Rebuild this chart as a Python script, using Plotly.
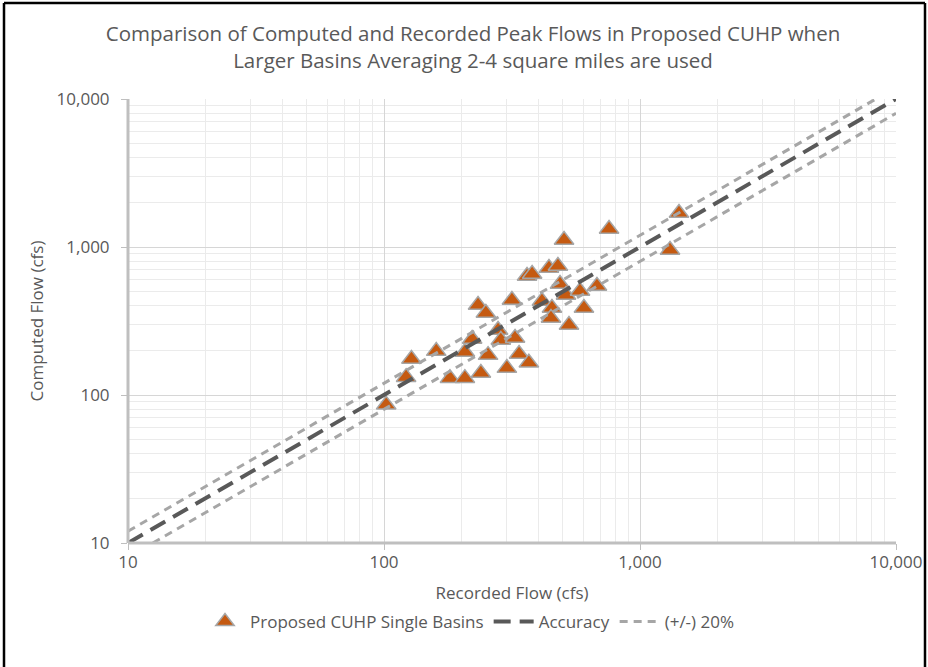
import plotly.graph_objects as go

# Recorded vs computed peak flows (cfs) for the larger basins
recorded = [102, 122, 128, 160, 181, 207, 207, 221, 233, 250, 239, 255,
            279, 286, 302, 316, 325, 337, 368, 362, 379, 414, 441, 478,
            487, 514, 583, 679, 604, 453, 449, 528, 505, 757, 1420, 1310]
computed = [86, 132, 175, 198, 130, 130, 195, 239, 406, 358, 141, 186,
            275, 235, 152, 438, 243, 189, 165, 637, 657, 432, 721, 744,
            562, 474, 504, 545, 387, 387, 331, 297, 1115, 1323, 1697, 954]

# Reference lines: perfect agreement and a +/-20% band
line_lo, line_hi = 10, 10000
band = 0.20

tick_vals = [10, 100, 1000, 10000]
tick_text = ["10", "100", "1,000", "10,000"]

FONT = "Open Sans, sans-serif"
TXT = "#595959"

fig = go.Figure()

fig.add_trace(go.Scatter(
    x=recorded, y=computed, mode="markers",
    name="Proposed CUHP Single Basins",
    marker=dict(symbol="triangle-up", size=17, color="#C55A11",
                line=dict(color="#A6A6A6", width=1.5)),
))

fig.add_trace(go.Scatter(
    x=[line_lo, line_hi], y=[line_lo, line_hi], mode="lines",
    name="Accuracy",
    line=dict(color="#595959", width=4, dash="17px,9px"),
))

# upper and lower band lines, clipped to the 10-10,000 square
up_x = [line_lo, line_hi / (1 + band)]
up_y = [line_lo * (1 + band), line_hi]
lo_x = [line_lo / (1 - band), line_hi]
lo_y = [line_lo, line_hi * (1 - band)]

fig.add_trace(go.Scatter(
    x=up_x, y=up_y, mode="lines", name="(+/-) 20%",
    line=dict(color="#A6A6A6", width=3, dash="8px,6px"),
))
fig.add_trace(go.Scatter(
    x=lo_x, y=lo_y, mode="lines", name="(+/-) 20%", showlegend=False,
    line=dict(color="#A6A6A6", width=3, dash="8px,6px"),
))

axis_common = dict(
    type="log", range=[1, 4], automargin=False,
    tickmode="array", tickvals=tick_vals, ticktext=tick_text,
    showgrid=True, gridcolor="#D6D6D6", gridwidth=1,
    minor=dict(dtick="D1", showgrid=True, gridcolor="#EBEBEB", gridwidth=1,
               ticks=""),
    showline=False, zeroline=False,
    tickfont=dict(family=FONT, size=17, color=TXT),
    ticks="outside", ticklen=6, tickcolor="#BFBFBF",
)

fig.update_xaxes(**axis_common, ticklabelstandoff=-2,
                 title=dict(text="Recorded Flow (cfs)",
                            font=dict(family=FONT, size=17, color=TXT),
                            standoff=20))
fig.update_yaxes(**axis_common, ticklabelstandoff=8,
                 title=dict(text="Computed Flow (cfs)",
                            font=dict(family=FONT, size=17, color=TXT),
                            standoff=8))

# heavier left and bottom axis lines
fig.add_shape(type="line", xref="paper", yref="paper", x0=0, x1=0, y0=0, y1=1,
              line=dict(color="#BFBFBF", width=3))
fig.add_shape(type="line", xref="paper", yref="paper", x0=0, x1=1, y0=0, y1=0,
              line=dict(color="#BFBFBF", width=3))

# black frame round the whole chart
W, H = 928, 667
ml, mr, mt, mb = 128, 32, 99, 124
pw, ph = W - ml - mr, H - mt - mb


def px(xp):
    return (xp - ml) / pw


def py(yp):
    return (H - mb - yp) / ph


for x0, y0, x1, y1 in [(4, 3, 925, 3), (4, 3, 4, 680), (925, 3, 925, 680)]:
    fig.add_shape(type="line", xref="paper", yref="paper",
                  x0=px(x0), y0=py(y0), x1=px(x1), y1=py(y1),
                  line=dict(color="black", width=2.5))

fig.update_layout(
    width=W, height=H,
    margin=dict(l=ml, r=mr, t=mt, b=mb),
    paper_bgcolor="white", plot_bgcolor="white",
    title=dict(
        text="Comparison of Computed and Recorded Peak Flows in Proposed CUHP when<br>"
             "Larger Basins Averaging 2-4 square miles are used",
        x=473 / W, xanchor="center", xref="container",
        y=1 - 41 / H, yanchor="middle", yref="container",
        font=dict(family=FONT, size=20.5, color=TXT),
    ),
    legend=dict(
        orientation="h", x=470 / W, xanchor="center", xref="container",
        y=1 - 622 / H, yanchor="middle", yref="container",
        font=dict(family=FONT, size=17, color=TXT),
        itemwidth=40,
    ),
    showlegend=True,
)

fig.write_html("out.html")
